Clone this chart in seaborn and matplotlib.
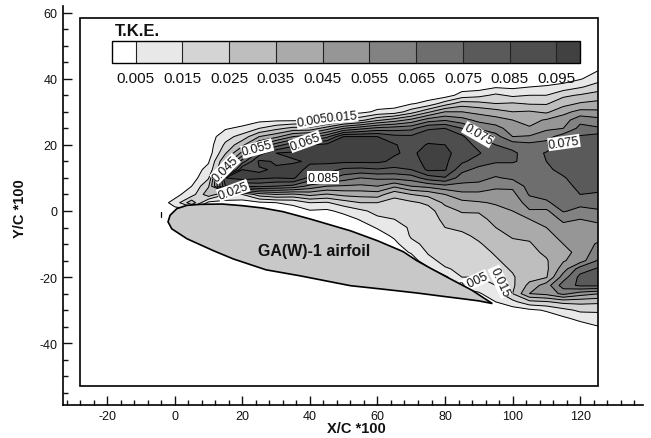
import matplotlib
matplotlib.use("Agg")
import matplotlib.pyplot as plt
from matplotlib.patches import Rectangle
from matplotlib.ticker import MultipleLocator
import numpy as np
import seaborn as sns

# T.K.E., in thousandths, one row per x station
x_stations = [-5, 0, 5, 10, 15, 20, 25, 30, 35, 40, 45, 50, 55, 60, 65, 70, 75, 80, 85, 90, 95, 100, 105, 110, 115, 120, 126]
y_stations = [-37.5, -35, -32.5, -30, -27.5, -25, -22.5, -20, -17.5, -15, -12.5, -10, -7.5, -5, -2.5, 0,
              2.5, 5, 7.5, 10, 12.5, 15, 17.5, 20, 22.5, 25, 27.5, 30, 32.5, 35, 37.5, 40, 42.5, 45]
tke_milli = [
    [0, 0, 0, 0, 0, 0, 0, 0, 0, 0, 0, 0, 0, 0, 0, 0,
     0, 0, 0, 0, 0, 0, 0, 0, 0, 0, 0, 0, 0, 0, 0, 0, 0, 0],
    [0, 0, 0, 0, 0, 0, 0, 0, 0, 0, 0, 0, 0, 0, 0, 2,
     8, 2, 0, 0, 0, 0, 0, 0, 0, 0, 0, 0, 0, 0, 0, 0, 0, 0],
    [0, 0, 0, 0, 0, 0, 0, 0, 0, 0, 0, 0, 0, 0, 0, 0,
     32, 10, 5, 0, 0, 0, 0, 0, 0, 0, 0, 0, 0, 0, 0, 0, 0, 0],
    [0, 0, 0, 0, 0, 0, 0, 0, 0, 0, 0, 0, 0, 0, 0, 0,
     2, 32, 24, 14, 8, 4, 0, 0, 0, 0, 0, 0, 0, 0, 0, 0, 0, 0],
    [0, 0, 0, 0, 0, 0, 0, 0, 0, 0, 0, 0, 0, 0, 0, 0,
     1, 15, 85, 95, 40, 35, 24, 17, 11, 4, 0, 0, 0, 0, 0, 0, 0, 0],
    [0, 0, 0, 0, 0, 0, 0, 0, 0, 0, 0, 0, 0, 0, 0, 0,
     0, 15, 75, 100, 95, 70, 48, 32, 19, 7, 0, 0, 0, 0, 0, 0, 0, 0],
    [0, 0, 0, 0, 0, 0, 0, 0, 0, 0, 0, 0, 0, 0, 0, 0,
     3, 30, 78, 97, 94, 97, 80, 55, 35, 15, 2, 0, 0, 0, 0, 0, 0, 0],
    [0, 0, 0, 0, 0, 0, 0, 0, 0, 0, 0, 0, 0, 0, 0, 0,
     5, 35, 75, 95, 96, 94, 95, 70, 42, 22, 3, 0, 0, 0, 0, 0, 0, 0],
    [0, 0, 0, 0, 0, 0, 0, 0, 0, 0, 0, 0, 0, 0, 0, 1,
     7, 33, 72, 97, 98, 94, 97, 82, 55, 28, 3, 0, 0, 0, 0, 0, 0, 0],
    [0, 0, 0, 0, 0, 0, 0, 0, 0, 0, 0, 0, 0, 0, 0, 4,
     15, 38, 62, 82, 93, 96, 99, 95, 60, 28, 4, 0, 0, 0, 0, 0, 0, 0],
    [0, 0, 0, 0, 0, 0, 0, 0, 0, 0, 0, 0, 0, 0, 0, 3,
     14, 34, 55, 78, 90, 97, 99, 98, 72, 40, 8, 0, 0, 0, 0, 0, 0, 0],
    [0, 0, 0, 0, 0, 0, 0, 0, 0, 0, 0, 0, 0, 0, 0, 8,
     20, 38, 54, 70, 83, 97, 101, 101, 95, 55, 16, 1, 0, 0, 0, 0, 0, 0],
    [0, 0, 0, 0, 0, 0, 0, 0, 0, 0, 0, 0, 0, 0, 6, 13,
     25, 39, 53, 65, 82, 97, 101, 101, 95, 62, 22, 2, 0, 0, 0, 0, 0, 0],
    [0, 0, 0, 0, 0, 0, 0, 0, 0, 0, 0, 0, 0, 6, 13, 18,
     25, 40, 55, 67, 84, 97, 99, 99, 95, 68, 33, 7, 0, 0, 0, 0, 0, 0],
    [0, 0, 0, 0, 0, 0, 0, 0, 0, 0, 0, 2, 7, 12, 15, 18,
     21, 28, 47, 68, 82, 93, 96, 96, 88, 70, 40, 9, 0, 0, 0, 0, 0, 0],
    [0, 0, 0, 0, 0, 0, 0, 0, 0, 0, 6, 13, 16, 16, 17, 19,
     23, 35, 55, 70, 85, 90, 93, 90, 87, 72, 48, 20, 4, 0, 0, 0, 0, 0],
    [0, 0, 0, 0, 0, 0, 0, 0, 3, 12, 16, 17, 17, 18, 19, 21,
     27, 38, 58, 80, 97, 99, 99, 96, 90, 84, 60, 33, 8, 0, 0, 0, 0, 0],
    [0, 0, 0, 0, 0, 0, 0, 3, 14, 18, 19, 20, 21, 25, 28, 31,
     37, 45, 62, 84, 96, 97, 98, 95, 88, 85, 64, 45, 20, 0, 0, 0, 0, 0],
    [0, 0, 0, 0, 0, 0, 8, 15, 17, 19, 20, 21, 23, 27, 31, 36,
     42, 52, 62, 70, 78, 87, 90, 90, 87, 75, 59, 45, 30, 9, 0, 0, 0, 0],
    [0, 0, 0, 0, 0, 4, 10, 15, 18, 20, 22, 24, 27, 29, 32, 36,
     44, 52, 62, 68, 72, 80, 86, 82, 74, 64, 52, 42, 28, 12, 0, 0, 0, 0],
    [0, 0, 0, 0, 5, 10, 15, 19, 22, 24, 26, 29, 32, 35, 38, 42,
     46, 51, 57, 64, 70, 76, 78, 75, 69, 59, 49, 39, 25, 17, 4, 0, 0, 0],
    [0, 0, 0, 0, 12, 25, 23, 24, 26, 28, 31, 33, 36, 39, 42, 45,
     48, 52, 57, 67, 70, 76, 77, 71, 55, 50, 45, 35, 26, 13, 3, 0, 0, 0],
    [0, 0, 0, 3, 22, 45, 38, 31, 29, 30, 32, 34, 37, 41, 45, 54,
     60, 66, 69, 71, 72, 72, 70, 68, 56, 46, 42, 36, 24, 15, 5, 0, 0, 0],
    [0, 0, 0, 6, 24, 48, 50, 34, 33, 34, 37, 40, 42, 45, 49, 53,
     64, 67, 69, 71, 73, 75, 76, 69, 61, 53, 46, 33, 24, 15, 6, 0, 0, 0],
    [0, 0, 3, 12, 28, 58, 70, 60, 50, 44, 42, 45, 48, 52, 57, 66,
     68, 70, 71, 74, 78, 84, 82, 78, 70, 55, 50, 42, 31, 23, 9, 0, 0, 0],
    [0, 0, 8, 17, 28, 50, 77, 78, 70, 50, 48, 50, 50, 50, 55, 62,
     68, 75, 78, 80, 82, 80, 82, 84, 76, 68, 62, 48, 36, 26, 14, 4, 0, 0],
    [0, 5, 10, 17, 27, 45, 77, 80, 77, 68, 62, 57, 52, 52, 58, 64,
     70, 73, 80, 82, 80, 80, 82, 85, 80, 66, 58, 47, 38, 30, 20, 12, 5.5, 0],
]

# airfoil outline
airfoil_x = [-2, -1.4, 0.6, 3.6, 7.5, 14, 20, 26, 32, 40, 48, 52, 60, 67.6, 71.6, 76, 81.5, 88, 94,
             90, 85.5, 80, 71.6, 62, 52, 37, 27, 17.3, 11.4, 3.6, -0.9, -2]
airfoil_y = [-3.3, -1.3, 0.7, 1.7, 2, 2.1, 1.6, 0.9, -0.2, -2.4, -4.8, -6, -9, -12.3, -15, -17.5, -20.5, -24, -28,
             -27.2, -26.6, -25.9, -24.8, -23.7, -22.6, -19.6, -17.8, -14.5, -12, -8.4, -5.4, -3.3]

levels = [0.005, 0.015, 0.025, 0.035, 0.045, 0.055, 0.065, 0.075, 0.085, 0.095]
level_labels = ['0.005', '0.015', '0.025', '0.035', '0.045', '0.055', '0.065', '0.075', '0.085', '0.095']
greys = ['#ffffff', '#e8e8e8', '#d4d4d4', '#bebebe', '#aaaaaa', '#969696',
         '#828282', '#6e6e6e', '#5a5a5a', '#4e4e4e', '#414141']

# labels on the contours: text, x, y, angle
contour_labels = [
    ('0.005', 40.7, 27.4, 10), ('0.015', 49.5, 28.6, 5), ('0.065', 38.6, 21, 20),
    ('0.055', 24.4, 18.9, 15), ('0.045', 14.9, 12.8, 45), ('0.025', 17.3, 6.2, 20),
    ('0.085', 43.9, 10.1, 0), ('0.075', 89.8, 23.1, -30), ('0.075', 115.2, 20.7, 8),
    ('0.005', 88.3, -21.4, 25), ('0.015', 96.3, -21.4, -65),
]

sns.set_theme(style="ticks", rc={"axes.spines.right": False, "axes.spines.top": False})
plt.rcParams['font.family'] = ['Liberation Sans', 'DejaVu Sans']
plt.rcParams['axes.unicode_minus'] = False

W, H = 651, 439
fig = plt.figure(figsize=(W / 100, H / 100), dpi=100, facecolor='white')
ax = fig.add_axes([63.3 / W, 1 - 405.7 / H, (643 - 63.3) / W, (405.7 - 7) / H])
ax.set_xlim(-33, 138.6)
ax.set_ylim(-58.6, 62)

frame = Rectangle((-28, -52.8), 153.3, 111.3, fill=False, edgecolor='black', linewidth=1.2, zorder=6)
ax.add_patch(frame)

tke = np.array(tke_milli, dtype=float).T / 1000
cf = ax.contourf(x_stations, y_stations, tke, levels=levels, colors=greys, extend='both', zorder=1)
cl = ax.contour(x_stations, y_stations, tke, levels=levels, colors='black', linewidths=0.7, zorder=2)
cf.set_clip_path(frame)
cl.set_clip_path(frame)

for text, lx, ly, angle in contour_labels:
    ax.text(lx, ly, text, fontsize=9, rotation=angle, rotation_mode='anchor', ha='center', va='center',
            color='#111111', zorder=3, bbox=dict(facecolor='white', edgecolor='none', pad=0.4))

ax.fill(airfoil_x, airfoil_y, facecolor='#c8c8c8', edgecolor='black', linewidth=1.2, zorder=4)
ax.plot([-4.2, -4.2], [-0.3, -1.9], color='black', linewidth=0.9, zorder=2)
ax.text(41.2, -12, 'GA(W)-1 airfoil', fontsize=11.5, fontweight='bold', ha='center', va='center', color='#111111', zorder=5)

# ejes
ax.xaxis.set_major_locator(MultipleLocator(20))
ax.xaxis.set_minor_locator(MultipleLocator(4))
ax.yaxis.set_major_locator(MultipleLocator(20))
ax.yaxis.set_minor_locator(MultipleLocator(5))
ax.tick_params(which='major', direction='in', length=6.5, width=1, labelsize=9, pad=4, colors='#111111')
ax.tick_params(which='minor', direction='in', length=3.8, width=1, colors='#111111')
for side in ['left', 'bottom']:
    ax.spines[side].set_linewidth(1.2)
    ax.spines[side].set_color('black')
fig.text(356 / W, 1 - 429 / H, 'X/C *100', fontsize=10.5, fontweight='bold', ha='center', va='center', color='#111111')
fig.text(20 / W, 1 - 209 / H, 'Y/C *100', fontsize=10.5, fontweight='bold', rotation=90, ha='center', va='center', color='#111111')

# barra de niveles
cax = fig.add_axes([112 / W, 1 - 64 / H, (580 - 112) / W, 22 / H])
cbar = fig.colorbar(cf, cax=cax, orientation='horizontal', extendrect=True, extendfrac=0.056,
                    drawedges=True, spacing='uniform')
cbar.set_ticks(levels, labels=level_labels)
cbar.ax.minorticks_off()
cbar.ax.tick_params(length=0, labelsize=11, pad=6, colors='#111111')
cbar.outline.set_linewidth(1)
cbar.outline.set_edgecolor('black')
cbar.dividers.set_color('#222222')
cbar.dividers.set_linewidth(0.8)
fig.text(115 / W, 1 - 36 / H, 'T.K.E.', fontsize=12, fontweight='bold', ha='left', va='baseline', color='#111111')

fig.savefig('out.png', dpi=100)
